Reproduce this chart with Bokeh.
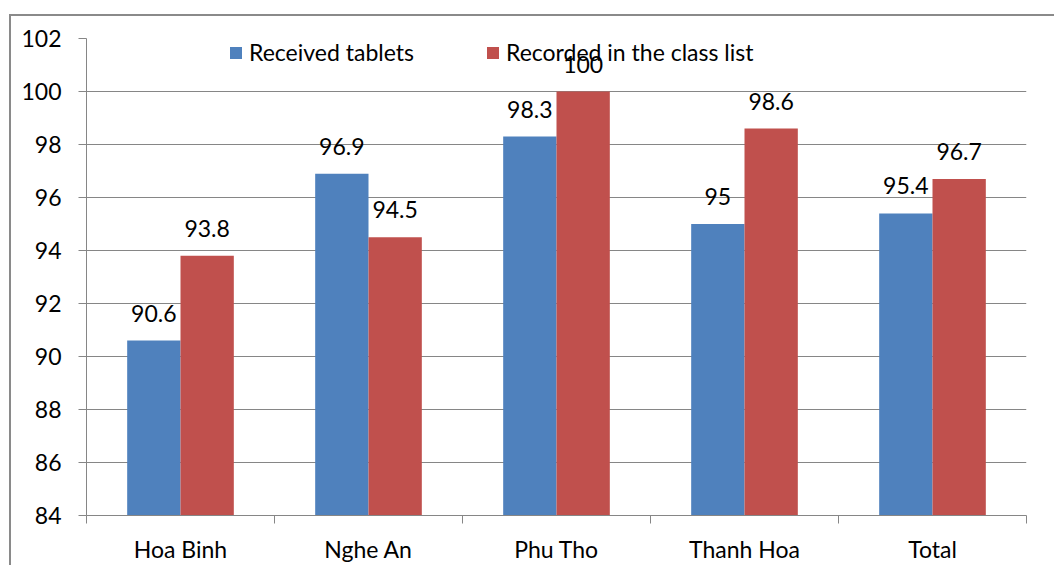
from bokeh.plotting import figure
from bokeh.models import ColumnDataSource, Range1d, FixedTicker
from bokeh.transform import dodge
from bokeh.core.properties import value
from bokeh.embed import file_html
from bokeh.resources import INLINE

categories = ["Hoa Binh", "Nghe An", "Phu Tho", "Thanh Hoa", "Total"]
received = [90.6, 96.9, 98.3, 95.0, 95.4]
recorded = [93.8, 94.5, 100.0, 98.6, 96.7]
y_ticks = [84, 86, 88, 90, 92, 94, 96, 98, 100, 102]
series_names = ["Received tablets", "Recorded in the class list"]

BLUE = "#4F81BD"
RED = "#C0504D"
GRAY = "#868686"
FONT = "Lato"
FS = "23px"

xs = list(range(1, len(categories) + 1))
src = ColumnDataSource(dict(
    x=xs,
    received=received,
    recorded=recorded,
    received_lbl=[f"{v:g}" for v in received],
    recorded_lbl=[f"{v:g}" for v in recorded],
))

p = figure(width=1054, height=565, output_backend="svg", toolbar_location=None,
           x_range=Range1d(0.5, len(categories) + 0.5),
           y_range=Range1d(y_ticks[0], y_ticks[-1]),
           min_border_left=86, min_border_right=28, min_border_top=38, min_border_bottom=49)
p.outline_line_color = None
p.border_fill_color = None
p.background_fill_color = None
p.styles = {
    "background": ("linear-gradient(#8a8a8a, #8a8a8a) 9px 14px / 2px 100% no-repeat, "
                   "linear-gradient(#8a8a8a, #8a8a8a) 9px 14px / 100% 2px no-repeat, #ffffff"),
}
p.xgrid.grid_line_color = None
p.ygrid.grid_line_color = GRAY
p.ygrid.grid_line_width = 1
p.ygrid.ticker = FixedTicker(ticks=y_ticks)

bw = 0.2836
off = bw / 2
p.vbar(x=dodge("x", -off), top="received", bottom=y_ticks[0], width=bw, source=src,
       fill_color=BLUE, line_color=None, legend_label=series_names[0])
p.vbar(x=dodge("x", off), top="recorded", bottom=y_ticks[0], width=bw, source=src,
       fill_color=RED, line_color=None, legend_label=series_names[1])

p.text(x=dodge("x", -off), y="received", text="received_lbl", source=src,
       text_align="center", text_baseline="middle", y_offset=-27.5,
       text_font=value(FONT), text_font_size=FS, text_color="black")
p.text(x=dodge("x", off), y="recorded", text="recorded_lbl", source=src,
       text_align="center", text_baseline="middle", y_offset=-27.5,
       text_font=value(FONT), text_font_size=FS, text_color="black")

# y axis
ya = p.yaxis[0]
ya.ticker = FixedTicker(ticks=y_ticks)
ya.axis_line_color = GRAY
ya.major_tick_line_color = GRAY
ya.major_tick_out = 8
ya.major_tick_in = 0
ya.minor_tick_line_color = None
ya.major_label_standoff = 17
ya.major_label_text_font = FONT
ya.major_label_text_font_size = FS
ya.major_label_text_color = "black"

# x axis
xa = p.xaxis[0]
xa.ticker = FixedTicker(ticks=xs, minor_ticks=[i + 0.5 for i in range(len(categories) + 1)])
xa.major_label_overrides = {x: c for x, c in zip(xs, categories)}
xa.axis_line_color = GRAY
xa.major_tick_line_color = None
xa.major_tick_out = 0
xa.major_tick_in = 0
xa.minor_tick_line_color = GRAY
xa.minor_tick_out = 8
xa.minor_tick_in = 0
xa.major_label_standoff = 11
xa.major_label_text_font = FONT
xa.major_label_text_font_size = FS
xa.major_label_text_color = "black"

lg = p.legend[0]
lg.orientation = "horizontal"
lg.location = (142, 449)
lg.padding = 0
lg.margin = 0
lg.spacing = 0
lg.border_line_color = None
lg.background_fill_alpha = 0
lg.glyph_width = 15
lg.glyph_height = 15
lg.label_standoff = 6
lg.label_width = 236
lg.label_text_font = FONT
lg.label_text_font_size = FS
lg.label_text_color = "black"

open("out.html", "w").write(file_html(p, INLINE))
